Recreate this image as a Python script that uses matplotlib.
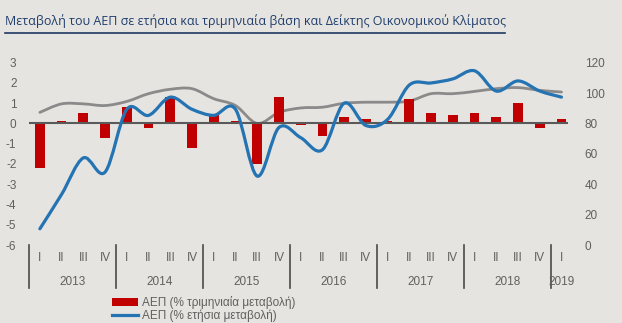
import matplotlib
matplotlib.use("Agg")
import matplotlib.pyplot as plt
import numpy as np
from matplotlib.path import Path
from matplotlib.patches import PathPatch, Patch
from matplotlib.lines import Line2D
import matplotlib.transforms as mtransforms

plt.rcParams['font.family'] = ['Liberation Sans', 'DejaVu Sans']
plt.rcParams['axes.unicode_minus'] = False

# ---- data ----
years = ['2013', '2014', '2015', '2016', '2017', '2018', '2019']
quarter_labels = ['I', 'II', 'III', 'IV'] * 6 + ['I']
gdp_qoq = [-2.2, 0.1, 0.5, -0.7, 0.8, -0.2, 1.3, -1.2, 0.4, 0.1, -2.0, 1.3,
           -0.1, -0.6, 0.3, 0.2, 0.1, 1.2, 0.5, 0.4, 0.5, 0.3, 1.0, -0.2, 0.2]
gdp_yoy = [-5.2, -3.5, -1.7, -2.4, 0.7, 0.4, 1.3, 0.7, 0.4, 0.7, -2.6, -0.2,
           -0.7, -1.3, 1.0, -0.1, 0.2, 1.9, 2.0, 2.2, 2.6, 1.6, 2.1, 1.6, 1.3]
esi = [87.3, 92.9, 92.9, 91.8, 94.5, 99.6, 102.5, 102.9, 96.3, 91.8, 80.0, 87.3,
       90.2, 90.7, 93.3, 94.0, 94.0, 94.7, 99.6, 99.6, 101.1, 102.9, 103.6, 101.8, 100.7]

title = "Μεταβολή του ΑΕΠ σε ετήσια και τριμηνιαία βάση και Δείκτης Οικονομικού Κλίματος"
leg_labels = ["ΑΕΠ (% τριμηνιαία μεταβολή)", "ΑΕΠ (% ετήσια μεταβολή)"]

BG = '#E6E4E0'
RED = '#C00000'
BLUE = '#2473B3'
GRAY = '#8A8A8A'
TXT = '#606060'

W, H = 622, 323
fig = plt.figure(figsize=(W / 100, H / 100), dpi=100, facecolor=BG)

x0, x1 = 29, 568
ytop, ybot = 62.7, 245
ax2 = fig.add_axes([x0 / W, 1 - ybot / H, (x1 - x0) / W, (ybot - ytop) / H])
ax = fig.add_axes(ax2.get_position(), sharex=ax2)
ax.set_zorder(ax2.get_zorder() + 1)
ax.patch.set_visible(False)
ax2.set_facecolor(BG)

n = len(gdp_qoq)
xs = np.arange(n)


def smooth_path(xv, yv):
    pts = np.column_stack([xv, yv]).astype(float)
    m = len(pts)
    verts = [pts[0]]
    codes = [Path.MOVETO]
    for i in range(m - 1):
        p0 = pts[i - 1] if i > 0 else pts[i]
        p1 = pts[i]
        p2 = pts[i + 1]
        p3 = pts[i + 2] if i + 2 < m else pts[i + 1]
        c1 = p1 + (p2 - p0) / 6.0
        c2 = p2 - (p3 - p1) / 6.0
        verts += [c1, c2, p2]
        codes += [Path.CURVE4] * 3
    return Path(verts, codes)


# gray ESI on right axis
ax2.add_patch(PathPatch(smooth_path(xs, esi), facecolor='none', edgecolor=GRAY,
                        lw=2.0, capstyle='round', joinstyle='round'))
ax2.set_ylim(0, 120)
ax2.set_yticks(np.arange(0, 121, 20))
ax2.yaxis.tick_right()
ax2.tick_params(axis='y', length=0, pad=12, labelsize=8.5, labelcolor=TXT)
ax2.tick_params(axis='x', length=0, labelbottom=False)
for s in ax2.spines.values():
    s.set_visible(False)

# bars and blue line on left axis
ax.bar(xs, gdp_qoq, width=0.45, color=RED, zorder=2)
ax.axhline(0, color='#5A5A5A', lw=1.5, zorder=3)
ax.add_patch(PathPatch(smooth_path(xs, gdp_yoy), facecolor='none', edgecolor=BLUE,
                       lw=2.3, capstyle='round', joinstyle='round', zorder=4))
ax.set_ylim(-6, 3)
ax.set_yticks(np.arange(-6, 4, 1))
ax.set_xlim(-0.5, 24.3)
ax.tick_params(axis='y', length=0, pad=9, labelsize=8.5, labelcolor=TXT)
ax.tick_params(axis='x', length=0, labelbottom=False)
ax.yaxis.tick_left()
for s in ax.spines.values():
    s.set_visible(False)

# category axis
axh = ybot - ytop
def yfrac(py):
    return -(py - ybot) / axh

trans = mtransforms.blended_transform_factory(ax.transData, ax.transAxes)
for i, q in enumerate(quarter_labels):
    ax.text(xs[i], yfrac(258), q, transform=trans, ha='center', va='center',
            fontsize=8.5, color=TXT)
for k, yr in enumerate(years):
    qs = xs[4 * k:4 * k + 4]
    ax.text(qs.mean(), yfrac(282), yr, transform=trans, ha='center', va='center',
            fontsize=8.5, color=TXT)
    ax.plot([4 * k - 0.5] * 2, [yfrac(245), yfrac(288)], transform=trans,
            color='#4A4A4A', lw=1.2, clip_on=False)

# title + underline
fig.text(5 / W, 1 - 21 / H, title, ha='left', va='center', fontsize=9.0,
         color='#1F3E6E', family=['Open Sans', 'DejaVu Sans'])
fig.add_artist(Line2D([5 / W, 505 / W], [1 - 33 / H] * 2, color='#1F3864', lw=1.2))

# legend
handles = [Patch(facecolor=RED, edgecolor='none'),
           Line2D([0], [0], color=BLUE, lw=2.3)]
fig.legend(handles, leg_labels, loc='upper left', bbox_to_anchor=(112 / W, 1 - 296 / H),
           frameon=False, fontsize=8.5, handlelength=2.2, handleheight=0.6,
           handletextpad=0.3, labelspacing=0.05, borderpad=0, borderaxespad=0,
           labelcolor=TXT)

fig.savefig('out.png', dpi=100, facecolor=BG)
